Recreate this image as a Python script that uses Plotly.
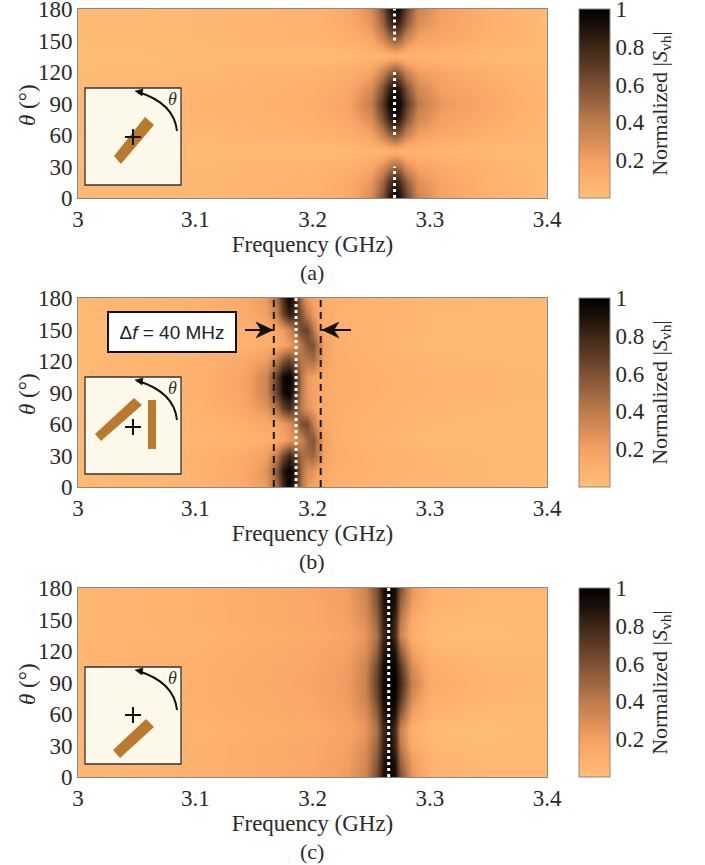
import plotly.graph_objects as go

W, H = 705, 865
theta = [0, 15, 30, 45, 60, 75, 90, 105, 120, 135, 150, 165, 180]
theta_ticks = [0, 30, 60, 90, 120, 150, 180]
freq_ticks = [3, 3.1, 3.2, 3.3, 3.4]
freq_tick_labels = ["3", "3.1", "3.2", "3.3", "3.4"]
cb_ticks = [0.2, 0.4, 0.6, 0.8, 1]
cb_tick_labels = ["0.2", "0.4", "0.6", "0.8", "1"]

freq_a = [3.0, 3.1, 3.2, 3.23, 3.25, 3.26, 3.265, 3.27, 3.275, 3.28, 3.29, 3.31, 3.35, 3.4]
z_a = [
    [.03, .05, .08, .14, .30, .60, .85, 1.0, .90, .68, .35, .19, .09, .04],
    [.03, .05, .08, .13, .25, .50, .72, .85, .75, .55, .28, .17, .09, .04],
    [.03, .05, .07, .10, .15, .30, .42, .50, .45, .30, .18, .13, .08, .04],
    [.02, .03, .03, .04, .05, .06, .07, .08, .07, .06, .06, .05, .04, .03],
    [.03, .05, .08, .11, .18, .36, .50, .58, .50, .35, .21, .15, .10, .05],
    [.03, .06, .10, .15, .30, .60, .82, .92, .83, .60, .32, .20, .13, .05],
    [.03, .07, .11, .18, .38, .72, .95, 1.0, .95, .72, .40, .24, .15, .06],
    [.03, .06, .10, .15, .30, .60, .82, .92, .83, .60, .32, .20, .13, .05],
    [.03, .05, .08, .11, .18, .36, .50, .58, .50, .35, .21, .16, .10, .05],
    [.02, .03, .03, .04, .05, .06, .07, .08, .07, .06, .06, .05, .04, .03],
    [.03, .05, .07, .10, .15, .30, .42, .50, .45, .30, .18, .15, .09, .04],
    [.03, .05, .08, .13, .25, .50, .72, .85, .75, .55, .28, .19, .10, .04],
    [.03, .05, .08, .14, .30, .60, .85, 1.0, .90, .68, .35, .20, .10, .04],
]
white_a_f = [3.27, 3.27, None, 3.27, 3.27, None, 3.27, 3.27]
white_a_t = [0, 30, None, 60, 120, None, 150, 180]

freq_b = [3.0, 3.1, 3.14, 3.16, 3.17, 3.175, 3.18, 3.185, 3.19, 3.195, 3.2, 3.205, 3.21, 3.22, 3.25, 3.3, 3.4]
z_b = [
    [.04, .08, .14, .23, .47, .78, .98, .80, .45, .24, .18, .15, .12, .10, .08, .06, .04],
    [.04, .08, .14, .26, .58, .88, 1.0, .85, .48, .30, .26, .20, .15, .11, .09, .06, .04],
    [.04, .08, .13, .21, .40, .64, .80, .68, .48, .46, .50, .36, .20, .12, .09, .06, .04],
    [.03, .05, .08, .10, .14, .18, .24, .28, .34, .50, .58, .38, .19, .11, .07, .04, .03],
    [.04, .07, .10, .14, .18, .22, .28, .40, .60, .62, .40, .24, .15, .11, .08, .05, .03],
    [.04, .08, .15, .26, .46, .68, .78, .62, .40, .28, .21, .16, .13, .11, .09, .06, .04],
    [.04, .09, .17, .34, .68, .92, .98, .76, .42, .25, .19, .16, .14, .12, .10, .07, .05],
    [.04, .09, .17, .34, .70, .95, 1.0, .80, .44, .25, .19, .16, .14, .12, .10, .07, .05],
    [.04, .08, .14, .23, .42, .60, .68, .56, .42, .42, .46, .34, .19, .12, .09, .06, .04],
    [.03, .05, .08, .11, .14, .18, .22, .30, .42, .56, .60, .40, .20, .11, .07, .04, .03],
    [.03, .07, .09, .12, .16, .22, .32, .48, .64, .66, .44, .23, .14, .10, .08, .05, .03],
    [.04, .08, .12, .20, .38, .66, .84, .78, .58, .38, .24, .16, .12, .09, .08, .05, .04],
    [.04, .08, .14, .23, .47, .78, .98, .80, .45, .24, .18, .15, .12, .10, .08, .06, .04],
]
white_b_f = [3.186, 3.186]
white_b_t = [0, 180]
dash_left_f = [3.167, 3.167]
dash_right_f = [3.207, 3.207]
dash_t = [0, 180]

freq_c = [3.0, 3.1, 3.2, 3.23, 3.245, 3.255, 3.26, 3.265, 3.27, 3.275, 3.285, 3.3, 3.35, 3.4]
z_c = [
    [.05, .09, .16, .22, .34, .62, .90, 1.0, .92, .60, .25, .09, .05, .05],
    [.05, .09, .15, .21, .32, .58, .86, .98, .88, .52, .22, .08, .04, .05],
    [.05, .09, .15, .20, .29, .52, .82, .95, .80, .42, .14, .05, .03, .05],
    [.05, .08, .13, .17, .24, .46, .78, .92, .76, .36, .10, .03, .02, .04],
    [.06, .09, .15, .20, .29, .54, .85, .98, .88, .56, .20, .07, .04, .05],
    [.06, .10, .16, .22, .34, .64, .92, 1.0, .96, .72, .30, .11, .06, .05],
    [.06, .10, .17, .23, .36, .68, .94, 1.0, .98, .80, .36, .14, .07, .05],
    [.06, .10, .16, .22, .34, .64, .92, 1.0, .96, .72, .30, .11, .06, .05],
    [.06, .09, .15, .20, .29, .54, .85, .98, .88, .56, .20, .07, .04, .05],
    [.05, .08, .13, .17, .24, .46, .78, .92, .76, .36, .10, .03, .02, .04],
    [.05, .09, .15, .20, .29, .52, .82, .95, .80, .42, .14, .05, .03, .05],
    [.05, .09, .15, .21, .32, .58, .86, .98, .88, .52, .22, .08, .04, .05],
    [.05, .09, .16, .22, .34, .62, .90, 1.0, .92, .60, .25, .09, .05, .05],
]
white_c_f = [3.265, 3.265]
white_c_t = [0, 180]

colorscale = [
    [0.0, "#FFBF78"], [0.1, "#FDB06D"], [0.2, "#F4A163"], [0.3, "#D98C56"],
    [0.4, "#BE7C4C"], [0.5, "#9C6540"], [0.6, "#7C5033"], [0.7, "#5C3A24"],
    [0.8, "#3E2717"], [0.9, "#1C110A"], [1.0, "#000000"],
]

SERIF = "Liberation Serif"
FS = 23
TXT = "#2a2a2a"
GREY = "#8a8a80"
PL, PR = 78, 547
CBL, CBW = 579, 31
PANEL_H = 189
TOPS = [9, 298, 588]


def fx(p):
    return p / W


def fy(p):
    return 1 - p / H


def path(points, close=True):
    s = "M " + " L ".join(f"{fx(x):.5f},{fy(y):.5f}" for x, y in points)
    return s + (" Z" if close else "")


fig = go.Figure()
panels = [(freq_a, z_a, white_a_f, white_a_t), (freq_b, z_b, white_b_f, white_b_t), (freq_c, z_c, white_c_f, white_c_t)]
shapes, annos = [], []
letters = ["(a)", "(b)", "(c)"]

for i, (fr, z, wf, wt) in enumerate(panels):
    top = TOPS[i]
    n = "" if i == 0 else str(i + 1)
    fig.add_trace(go.Heatmap(
        x=fr, y=theta, z=z, zsmooth="best", colorscale=colorscale, zmin=0, zmax=1,
        xaxis=f"x{n}", yaxis=f"y{n}",
        colorbar=dict(
            x=fx(CBL), xanchor="left", xpad=0, ypad=0, y=fy(top), yanchor="top", len=PANEL_H / H,
            thickness=CBW, tickvals=cb_ticks, ticktext=cb_tick_labels, ticks="", outlinecolor=GREY, outlinewidth=1,
            ticklabeloverflow="allow",
            tickfont=dict(family=SERIF, size=FS, color=TXT),
            title=dict(text="Normalized |<i>S</i><sub>vh</sub>|", side="right", font=dict(family=SERIF, size=FS - 1, color=TXT)),
        ),
    ))
    if i == 1:
        for df in (dash_left_f, dash_right_f):
            fig.add_trace(go.Scatter(x=df, y=dash_t, mode="lines", line=dict(color="#1a1a1a", width=2, dash="7px,5px"),
                                     xaxis=f"x{n}", yaxis=f"y{n}", showlegend=False, hoverinfo="skip"))
    fig.add_trace(go.Scatter(x=wf, y=wt, mode="lines", line=dict(color="white", width=3, dash="3px,3px"),
                             xaxis=f"x{n}", yaxis=f"y{n}", showlegend=False, hoverinfo="skip"))
    ax = dict(
        domain=[fx(PL), fx(PR)], range=[3, 3.4], tickvals=freq_ticks, ticktext=freq_tick_labels, ticks="",
        showgrid=False, zeroline=False, showline=True, mirror=True, linecolor=GREY, linewidth=1,
        ticklabeloverflow="allow",
        tickfont=dict(family=SERIF, size=FS, color=TXT),
        title=dict(text="Frequency (GHz)", standoff=4, font=dict(family=SERIF, size=FS, color=TXT)),
        anchor=f"y{n}",
    )
    ay = dict(
        domain=[fy(top + PANEL_H), fy(top)], range=[0, 180], tickvals=theta_ticks, ticks="",
        showgrid=False, zeroline=False, showline=True, mirror=True, linecolor=GREY, linewidth=1,
        ticklabeloverflow="allow",
        tickfont=dict(family=SERIF, size=FS, color=TXT),
        anchor=f"x{n}",
    )
    fig.update_layout({f"xaxis{n}": ax, f"yaxis{n}": ay})
    annos.append(dict(text="<i>θ</i> (°)", x=fx(27), y=fy(top + 96), xref="paper", yref="paper", showarrow=False,
                      textangle=-90, xanchor="center", yanchor="middle", font=dict(family=SERIF, size=FS, color=TXT)))
    annos.append(dict(text=letters[i], x=fx(312), y=fy(top + 263), xref="paper", yref="paper", showarrow=False,
                      xanchor="center", yanchor="middle", font=dict(family=SERIF, size=FS - 1, color=TXT)))

    # inset
    ox, oy = 85, top + 79
    shapes.append(dict(type="rect", xref="paper", yref="paper", x0=fx(ox), x1=fx(ox + 96), y0=fy(oy), y1=fy(oy + 97),
                       fillcolor="#FDF9EA", line=dict(color="#333", width=1.3), layer="above"))
    # curved arrow
    curve = (f"M {fx(ox+92):.5f},{fy(oy+43):.5f} Q {fx(ox+89):.5f},{fy(oy+15):.5f} {fx(ox+53):.5f},{fy(oy+4):.5f}")
    shapes.append(dict(type="path", xref="paper", yref="paper", path=curve, line=dict(color="#111", width=2), layer="above"))
    shapes.append(dict(type="path", xref="paper", yref="paper", path=path([(ox+50, oy+3), (ox+58, oy+1), (ox+57, oy+8)]),
                       fillcolor="#111", line=dict(color="#111", width=0.5), layer="above"))
    annos.append(dict(text="<i>θ</i>", x=fx(ox + 87), y=fy(oy + 11), xref="paper", yref="paper", showarrow=False,
                      xanchor="center", yanchor="middle", font=dict(family=SERIF, size=18, color="#333")))
    bars = {
        0: [[(ox+29, oy+68), (ox+36, oy+76), (ox+69, oy+37), (ox+60, oy+29)]],
        1: [[(ox+10, oy+57), (ox+16, oy+64), (ox+57, oy+28), (ox+49, oy+21)],
            [(ox+63, oy+23), (ox+71, oy+23), (ox+71, oy+72), (ox+63, oy+72)]],
        2: [[(ox+28, oy+83), (ox+35, oy+91), (ox+69, oy+60), (ox+61, oy+52)]],
    }[i]
    for b in bars:
        shapes.append(dict(type="path", xref="paper", yref="paper", path=path(b), fillcolor="#B97A30",
                           line=dict(width=0), layer="above"))
    cx, cy = ox + 48, oy + 50
    if i == 0:
        cy = oy + 49
    if i == 2:
        cy = oy + 48
    shapes.append(dict(type="line", xref="paper", yref="paper", x0=fx(cx-8), x1=fx(cx+8), y0=fy(cy), y1=fy(cy),
                       line=dict(color="#111", width=2), layer="above"))
    shapes.append(dict(type="line", xref="paper", yref="paper", x0=fx(cx), x1=fx(cx), y0=fy(cy-8), y1=fy(cy+8),
                       line=dict(color="#111", width=2), layer="above"))

# Delta f label and arrows
annos.append(dict(text="Δ<i>f</i> = 40 MHz", x=fx(172), y=fy(331.5), xref="paper", yref="paper", showarrow=False,
                  xanchor="center", yanchor="middle",
                  font=dict(family="Liberation Sans", size=19, color="#222"), bgcolor="white", bordercolor="#111",
                  borderwidth=2, width=124, height=36))
for tip, tail, d in ((273, 245, -1), (322, 351, 1)):
    shapes.append(dict(type="line", xref="paper", yref="paper", x0=fx(tail), x1=fx(tip), y0=fy(330), y1=fy(330),
                       line=dict(color="#111", width=2), layer="above"))
    shapes.append(dict(type="path", xref="paper", yref="paper",
                       path=path([(tip, 330), (tip + 17 * d, 322), (tip + 12 * d, 330), (tip + 17 * d, 338)]),
                       fillcolor="#111", line=dict(color="#111", width=0.5), layer="above"))

fig.update_layout(width=W, height=H, margin=dict(l=0, r=0, t=0, b=0, autoexpand=False), paper_bgcolor="white",
                  plot_bgcolor="white", showlegend=False, shapes=shapes, annotations=annos)
fig.write_html("out.html", post_script="document.body.style.margin='0';", config={"displayModeBar": False})
